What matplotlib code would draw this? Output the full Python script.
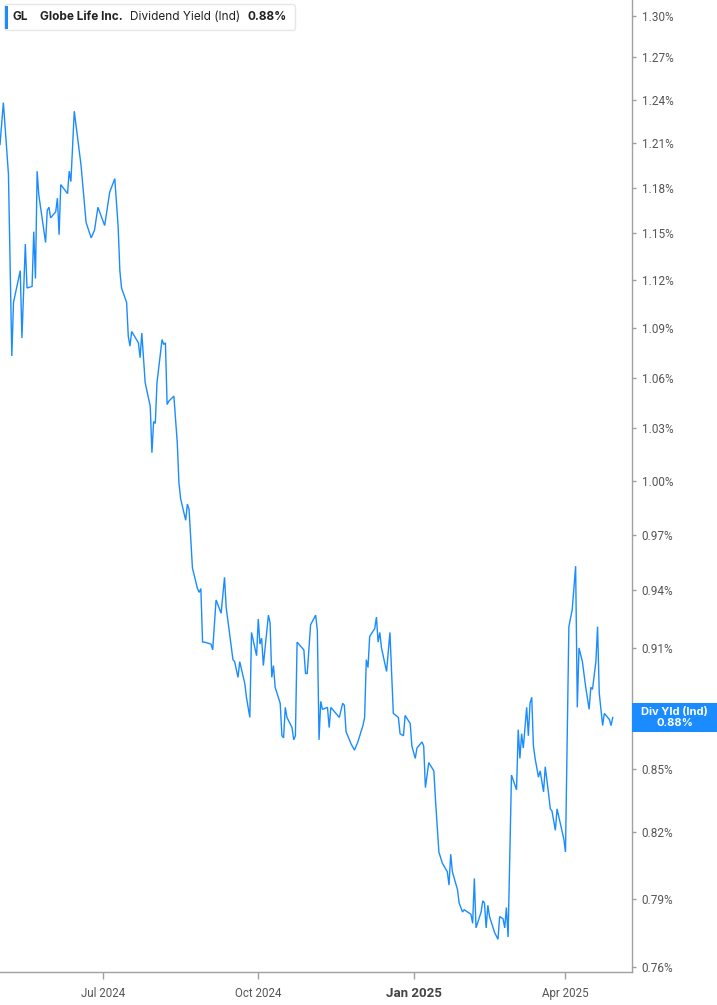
import numpy as np
import pandas as pd
import matplotlib
matplotlib.use("Agg")
import matplotlib.pyplot as plt
from matplotlib.ticker import FixedLocator, NullLocator, FuncFormatter
from matplotlib.patches import FancyBboxPatch, Rectangle
from matplotlib.transforms import IdentityTransform, blended_transform_factory

# ---------------- data ----------------
start_date = "2024-05-01"
day_offsets = [
    0, 2, 5, 7, 8, 12, 13, 15, 16, 19, 20, 21, 22, 23, 27, 28, 29, 30, 33, 34,
    35, 36, 40, 41, 42, 44, 48, 51, 54, 56, 58, 62, 65, 68, 70, 71, 72, 75, 76, 77,
    78, 82, 83, 84, 86, 89, 90, 91, 92, 93, 96, 97, 98, 99, 100, 103, 105, 106, 107, 110,
    111, 112, 114, 117, 118, 119, 120, 121, 125, 126, 128, 131, 133, 134, 138, 139, 141, 142, 145, 146,
    148, 149, 152, 153, 154, 155, 156, 159, 160, 161, 162, 163, 166, 167, 168, 169, 170, 173, 174, 175,
    176, 180, 181, 182, 184, 187, 188, 189, 190, 191, 194, 195, 196, 201, 203, 204, 205, 208, 210, 212,
    215, 216, 217, 218, 219, 222, 223, 224, 225, 226, 229, 231, 232, 233, 236, 237, 239, 240, 243, 244,
    246, 247, 250, 251, 252, 254, 257, 258, 259, 260, 262, 265, 266, 267, 268, 271, 272, 274, 275, 277,
    279, 280, 281, 282, 285, 286, 287, 288, 289, 290, 293, 295, 296, 298, 299, 300, 301, 303, 306, 307,
    308, 309, 310, 312, 313, 314, 315, 316, 317, 319, 320, 322, 323, 325, 326, 327, 329, 330, 332, 334,
    335, 337, 339, 341, 342, 343, 345, 347, 349, 350, 351, 353, 354, 355, 357, 358, 361, 362, 363,
]
div_yield = [
    1.209, 1.238, 1.189, 1.073, 1.106, 1.126, 1.084, 1.143, 1.115, 1.116,
    1.151, 1.121, 1.191, 1.175, 1.144, 1.165, 1.167, 1.160, 1.164, 1.173,
    1.149, 1.182, 1.176, 1.191, 1.184, 1.232, 1.195, 1.157, 1.147, 1.152,
    1.167, 1.155, 1.177, 1.186, 1.154, 1.126, 1.115, 1.106, 1.085, 1.079,
    1.088, 1.081, 1.072, 1.087, 1.057, 1.043, 1.016, 1.034, 1.033, 1.057,
    1.083, 1.080, 1.081, 1.044, 1.046, 1.049, 1.022, 0.999, 0.990, 0.978,
    0.987, 0.984, 0.952, 0.941, 0.939, 0.941, 0.913, 0.913, 0.912, 0.909,
    0.935, 0.928, 0.947, 0.931, 0.904, 0.903, 0.895, 0.903, 0.892, 0.885,
    0.875, 0.918, 0.906, 0.925, 0.912, 0.915, 0.901, 0.927, 0.923, 0.895,
    0.901, 0.890, 0.882, 0.866, 0.865, 0.880, 0.875, 0.870, 0.864, 0.866,
    0.913, 0.909, 0.897, 0.897, 0.922, 0.927, 0.919, 0.864, 0.883, 0.879,
    0.880, 0.870, 0.880, 0.875, 0.882, 0.881, 0.868, 0.862, 0.859, 0.863,
    0.871, 0.875, 0.904, 0.900, 0.916, 0.920, 0.926, 0.913, 0.918, 0.910,
    0.898, 0.918, 0.897, 0.877, 0.875, 0.867, 0.866, 0.876, 0.872, 0.861,
    0.855, 0.860, 0.863, 0.861, 0.841, 0.853, 0.849, 0.835, 0.823, 0.811,
    0.806, 0.802, 0.796, 0.810, 0.802, 0.794, 0.788, 0.784, 0.785, 0.784,
    0.783, 0.779, 0.799, 0.777, 0.784, 0.789, 0.788, 0.777, 0.787, 0.782,
    0.775, 0.772, 0.782, 0.781, 0.777, 0.786, 0.773, 0.847, 0.840, 0.869,
    0.855, 0.867, 0.860, 0.880, 0.866, 0.882, 0.885, 0.861, 0.855, 0.846,
    0.849, 0.839, 0.851, 0.838, 0.831, 0.830, 0.821, 0.831, 0.824, 0.817,
    0.811, 0.921, 0.930, 0.953, 0.880, 0.910, 0.903, 0.890, 0.879, 0.890,
    0.889, 0.903, 0.921, 0.887, 0.871, 0.877, 0.874, 0.871, 0.875,
]
ytick_values = [0.76, 0.79, 0.82, 0.85, 0.88, 0.91, 0.94, 0.97, 1.00, 1.03,
                1.06, 1.09, 1.12, 1.15, 1.18, 1.21, 1.24, 1.27, 1.30]
hidden_tick = 0.88  # covered by the end-of-line tag in the reference
xtick_dates = ["2024-07-01", "2024-10-01", "2025-01-01", "2025-04-01"]
xtick_labels = ["Jul 2024", "Oct 2024", "Jan 2025", "Apr 2025"]
ticker_symbol = "GL"
company_name = "Globe Life Inc."
metric_name = "Dividend Yield (Ind)"
last_value_text = "0.88%"
end_tag_title = "Div Yld (Ind)"

# ---------------- style ----------------
BLUE = "#1a8cff"
AXIS_GRAY = "#a0a0a0"
TEXT_GRAY = "#555555"
FONT = ["Inter", "DejaVu Sans"]
TICK_FONT = ["Roboto", "DejaVu Sans"]

W, H = 717, 1005
fig = plt.figure(figsize=(W / 100, H / 100), dpi=100)
fig.patch.set_facecolor("white")

ax_left, ax_right, ax_top, ax_bottom = 0, 632, 0, 972
ax = fig.add_axes([ax_left / W, 1 - ax_bottom / H, (ax_right - ax_left) / W, (ax_bottom - ax_top) / H])
ax.set_facecolor("white")

dates = pd.Timestamp(start_date) + pd.to_timedelta(day_offsets, unit="D")
ax.plot(dates, div_yield, color=BLUE, lw=1.0, solid_joinstyle="miter", zorder=3)

ax.set_yscale("log")
ax.set_ylim(0.7579, 1.3118)
ax.set_xlim(pd.Timestamp(start_date), pd.Timestamp(start_date) + pd.Timedelta(days=374.4))

ax.yaxis.tick_right()
ax.yaxis.set_major_locator(FixedLocator(ytick_values))
ax.yaxis.set_minor_locator(NullLocator())
ax.yaxis.set_major_formatter(
    FuncFormatter(lambda v, p: "" if abs(v - hidden_tick) < 1e-9 else f"{v:.2f}%"))

ax.set_xticks(pd.to_datetime(xtick_dates))
ax.set_xticklabels(xtick_labels)
ax.xaxis.set_minor_locator(NullLocator())

for s in ["top", "left"]:
    ax.spines[s].set_visible(False)
for s in ["right", "bottom"]:
    ax.spines[s].set_color(AXIS_GRAY)
    ax.spines[s].set_linewidth(1.0)

ax.tick_params(axis="y", which="major", direction="out", length=3, width=1,
               color=AXIS_GRAY, labelcolor=TEXT_GRAY, labelsize=8.5, pad=4)
ax.tick_params(axis="x", which="major", direction="out", length=5, width=1,
               color=AXIS_GRAY, labelcolor=TEXT_GRAY, labelsize=8.3, pad=6)
for lab in ax.get_yticklabels() + ax.get_xticklabels():
    lab.set_family(TICK_FONT)
xl = ax.get_xticklabels()
xl[2].set_fontweight("bold")
xl[2].set_fontsize(9.5)
xl[2].set_color("#444444")

# ---------------- end-of-line tag (placed at the last value via the axes transform) ----------------
tr = blended_transform_factory(ax.transAxes, ax.transData)
x_pix, y_pix = tr.transform((1.0, div_yield[-1]))
idt = IdentityTransform()
tag_h = 29
fig.patches.append(Rectangle((x_pix, y_pix - tag_h / 2), W - x_pix, tag_h, transform=idt,
                             facecolor=BLUE, edgecolor="none", figure=fig, zorder=8))
fig.text((x_pix + W) / 2 / W, y_pix / H, f"{end_tag_title}\n{last_value_text}",
         ha="center", va="center", color="white", fontsize=8.0, fontweight="bold",
         family=FONT, linespacing=1.05, zorder=9)

# ---------------- header legend ----------------
fig.patches.append(FancyBboxPatch((4.5, H - 30.5), 291, 26, boxstyle="round,pad=0,rounding_size=3",
                                  transform=idt, facecolor="white", edgecolor="#e6e6e6", lw=1.0,
                                  figure=fig, zorder=5))
fig.patches.append(Rectangle((5, H - 28.5), 3, 23, transform=idt, facecolor=BLUE,
                             edgecolor="none", figure=fig, zorder=6))
ty = 1 - 17.5 / H
fig.text(13 / W, ty, ticker_symbol, fontsize=8.5, fontweight="bold", color="#222222",
         family=FONT, va="center", ha="left", zorder=7)
fig.text(39.5 / W, ty, company_name, fontsize=8.5, fontweight="bold", color="#222222",
         family=FONT, va="center", ha="left", zorder=7)
fig.text(129.5 / W, ty, metric_name, fontsize=8.5, color="#222222",
         family=FONT, va="center", ha="left", zorder=7)
fig.text(247 / W, ty, last_value_text, fontsize=8.5, fontweight="bold", color="#222222",
         family=FONT, va="center", ha="left", zorder=7)

fig.savefig("out.png", dpi=100, facecolor="white")
